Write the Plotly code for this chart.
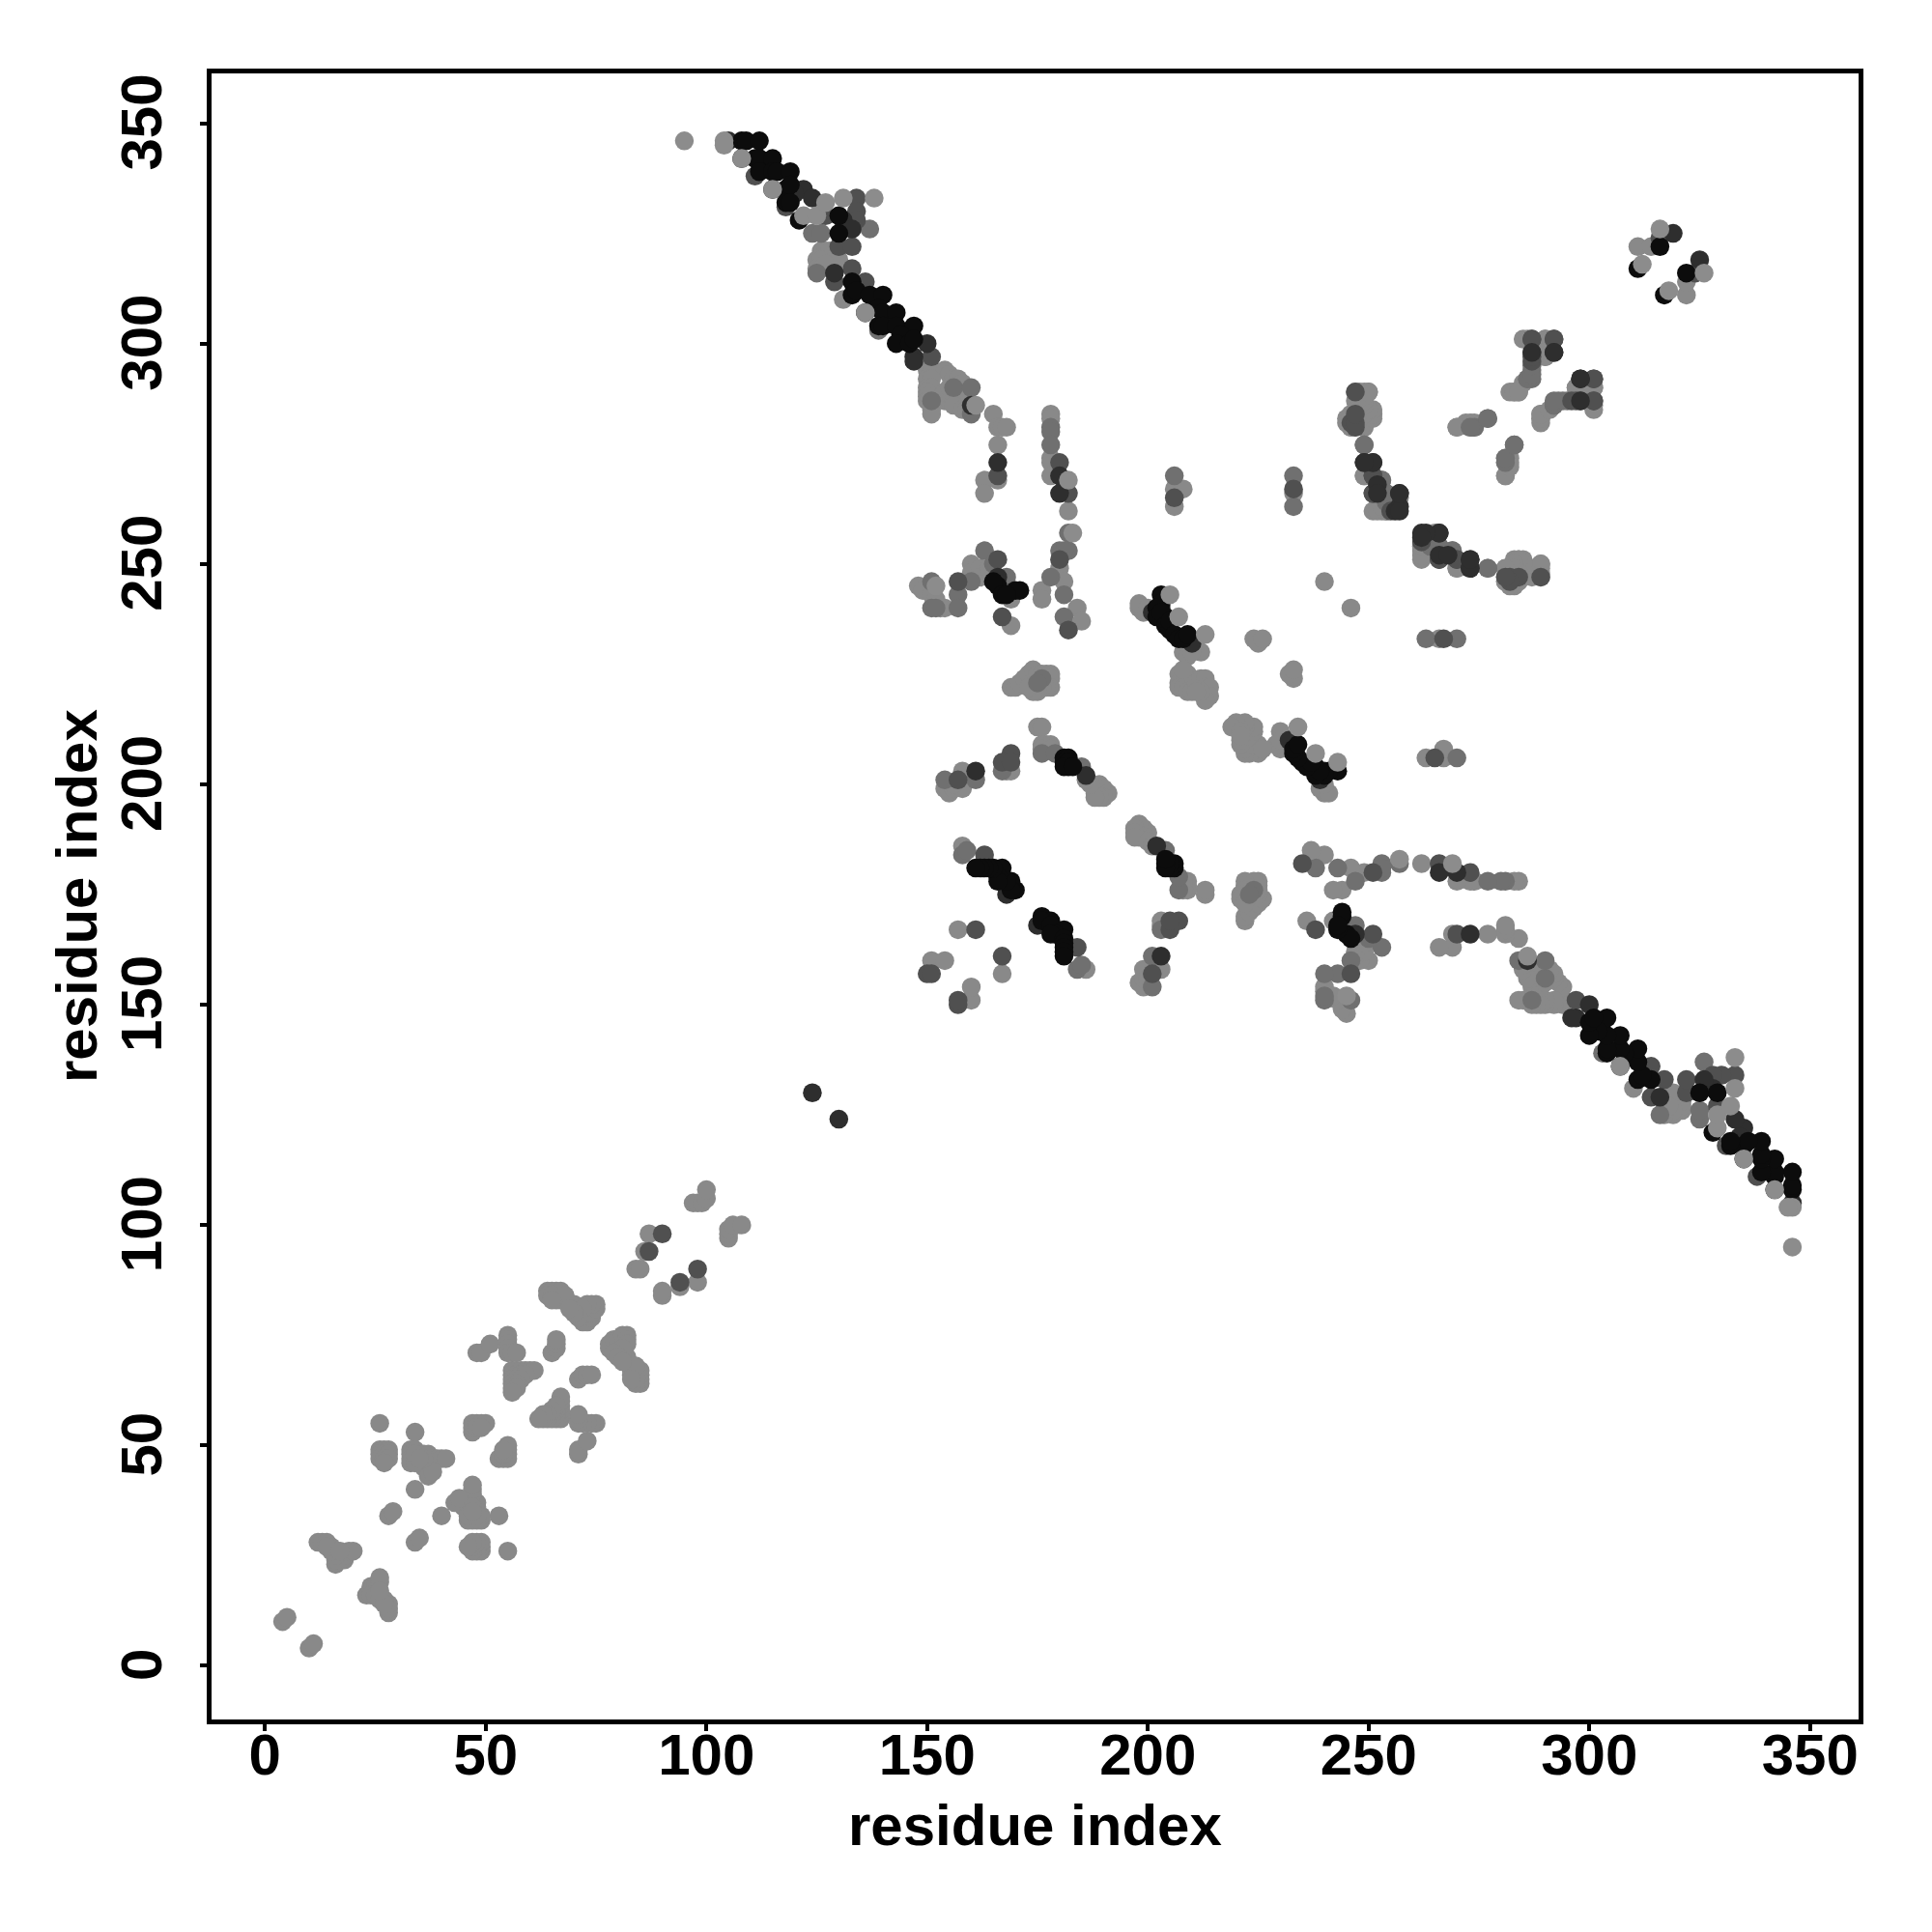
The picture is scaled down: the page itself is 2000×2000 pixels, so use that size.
import plotly.graph_objects as go

tick_values = [0, 50, 100, 150, 200, 250, 300, 350]
axis_label = "residue index"

# upper-triangle contacts (i, j), one list per shade; the map is symmetric
shade_lightest = [
 (4,10),(5,11),(12,28),(13,28),(14,28),(15,27),(16,26),(17,25),(18,24),(16,23),(17,24),(18,25),(19,26),(20,26),(16,24),(16,25),(15,26),(14,27),(17,26),
 (26,55),(34,53),(26,49),(27,49),(28,49),(26,48),(27,48),(28,48),(26,47),(27,47),(28,47),(27,46),
 (33,49),(34,49),(35,48),(36,48),(37,48),(33,48),(33,47),(34,47),(35,46),(36,45),(37,44),(37,43),(38,46),(39,47),(40,47),(41,47),(38,44),(36,47),(33,46),(34,46),(34,48),(35,47),
 (34,40),(28,34),(29,35),(47,53),(47,54),(47,55),(48,55),(49,55),(50,55),(48,54),(49,54),
 (48,71),(49,71),(51,73),(55,75),(55,74),(55,73),(55,72),(55,71),(56,71),(57,71),
 (56,67),(57,67),(58,67),(59,67),(60,67),(61,67),(56,66),(57,66),(58,66),(59,66),(56,65),(57,65),(58,65),(56,64),(57,64),(56,63),(57,63),(56,62),
 (65,71),(66,72),(66,73),(66,74),
 (64,85),(65,85),(66,85),(67,85),(64,84),(65,84),(66,83),(67,83),(68,83),(69,82),(70,82),(71,81),(72,80),(73,79),(72,78),(73,78),(74,79),(74,80),(75,81),(75,82),(74,82),(73,82),(68,84),(65,83),(72,81),(71,79),(70,80),(69,81),
 (84,90),(85,90),(86,94),(87,98),(97,105),(98,105),(99,105),(100,106),(100,108),
 (126,321),(127,321),(128,321),(125,319),(126,319),(129,319),(130,319),(125,317),(126,317),(127,318),(131,310),
 (150,294),(151,294),(154,294),(155,293),(150,292),(151,292),(156,292),(157,292),(158,291),(150,290),(151,290),(150,289),(150,288),(150,287),(151,286),(151,285),(151,284),(154,287),(155,287),(154,289),(155,290),(156,287),(157,287),(157,289),(158,287),(156,286),(158,285),(159,285),(160,285),
 (165,284),(166,281),(167,281),(168,281),(166,277),(166,269),(163,269),(163,266),
 (178,284),(178,283),(178,274),(178,273),(178,270),(182,262),(180,249),(181,246),(176,244),(176,242),(184,240),(185,237),
 (148,245),(149,244),(153,240),(154,240),(151,243),(152,242),
 (160,250),(161,249),(160,248),(161,247),(162,249),(162,247),(164,249),(169,242),(169,236),
 (169,222),(170,222),(171,223),(172,224),(173,225),(174,226),(175,225),(176,225),(177,225),(178,225),(178,224),(178,222),(177,222),(176,222),(175,221),(174,221),(173,222),
 (154,199),(155,198),(156,199),(158,203),(158,199),(156,200),(169,203),(168,203),
 (151,160),(154,160),(157,167),(158,186),
 (175,213),(176,213),(176,209),(177,209),(178,209),(176,208),(178,208),(188,199),(188,198),(189,200),(190,199),(191,198),(190,197),(189,197),(188,197),(187,200),(186,201),
 (198,240),(199,240),(199,239),(198,241),(200,240),(212,230),(208,230),(209,229),(210,230),
 (207,225),(207,223),(207,222),(208,222),(209,225),(209,223),(210,222),(209,221),(210,221),(211,223),(212,224),(213,224),(213,222),(214,222),(214,220),(213,219),(212,221),(208,226),(211,221),
 (224,233),(225,232),(226,233),(240,246),(206,267),(208,267),(206,263),(233,266),
 (249,270),(253,262),(251,262),(252,262),(254,262),(255,263),(255,265),
 (247,289),(248,289),(249,289),(250,289),(247,287),(248,286),(249,285),(250,285),(251,284),(250,283),(249,283),(246,284),(245,283),(245,282),(246,281),(247,282),(248,282),(249,281),(247,284),(248,284),
 (265,257),(262,254),(263,253),(264,254),(270,249),
 (281,249),(281,247),(281,246),(282,249),(282,246),(283,251),(284,251),(285,251),(283,246),(284,249),(285,250),(286,249),(286,248),(287,249),(288,249),(289,250),
 (270,281),(272,282),(273,282),(273,281),(281,270),(281,274),(282,274),(282,289),(283,289),(284,289),(289,283),(289,284),
 (285,291),(285,301),(290,301),(290,297),(290,299),(301,286),(297,290),(301,290),(298,289),(311,322),(314,322),
]
shade_mid = [
 (124,325),(126,325),(137,326),(139,303),(125,316),(151,287),(160,284),(156,290),(160,290),
 (178,281),(178,280),(178,277),(182,257),(180,253),(182,253),(181,253),(178,247),(181,243),(181,238),
 (151,246),(151,240),(152,240),(157,243),(157,240),(163,253),(160,246),(165,250),(168,247),
 (176,224),(175,223),(154,201),(161,201),(167,203),(158,184),(159,185),
 (176,207),(179,207),(185,204),(206,270),(233,270),(233,263),(249,277),(253,269),(254,266),(254,264),(266,254),(269,253),(277,249),
 (274,281),(277,283),(281,273),(283,277),(286,292),(287,294),(287,292),(292,286),(293,287),(295,287),
]
shade_dark = [
 (111,338),(118,331),(127,329),(134,333),(134,330),(134,328),(130,322),(129,314),(133,317),(133,322),(136,314),(151,297),
 (166,270),(180,273),(180,251),(182,266),(182,235),(157,246),(166,251),(167,238),
 (157,201),(169,207),(167,205),(169,205),(150,157),(151,157),(161,167),(163,184),
 (206,265),(233,267),(251,270),(251,266),(246,282),(247,281),(262,255),(266,251),(270,251),
 (289,247),(282,247),(284,247),(287,301),(287,296),(292,301),(297,287),(298,287),(301,287),(301,292),(316,324),
 (87,94),(90,98),
]
shade_darker = [
 (105,346),(122,335),(124,333),(120,334),(131,328),(133,326),(129,316),(150,300),(147,297),(147,296),
 (160,286),(166,273),(180,270),(180,266),(166,247),(161,203),(168,175),(186,202),(201,239),(210,232),(203,240),
 (124,130),(249,273),(251,273),(252,268),(257,266),(257,263),(256,262),(262,257),(266,257),(266,252),(273,251),(273,249),
 (287,298),(292,298),(298,292),(319,325),
]
shade_black = [
 (108,346),(109,346),(112,346),(108,342),(111,342),(112,342),(115,342),(112,339),(115,339),(116,339),(119,339),(115,335),(118,335),(119,336),(118,332),(119,332),(121,328),(130,329),(130,325),
 (133,314),(133,311),(134,312),(137,311),(140,311),(136,307),(139,308),(140,307),(143,307),(139,304),(140,304),(143,304),(147,304),(144,302),(143,300),(146,300),(147,301),
 (166,245),(165,246),(170,244),(171,244),(167,243),(168,243),
 (170,176),(169,178),(169,176),(168,178),(167,181),(166,179),(166,178),(165,181),(164,181),(163,181),(162,181),(161,181),
 (181,206),(182,206),(181,205),(182,205),(182,204),(181,204),(183,204),
 (203,243),(203,241),(202,240),(204,238),(202,238),(203,239),(204,236),(205,235),(205,237),(206,234),(207,233),(208,233),(209,234),
 (316,322),(311,317),
]
shade_top = [
 (95,346),(104,346),(104,345),(108,342),(115,335),(122,329),(125,329),(127,332),(131,333),(138,333),(136,307),(161,286),(182,269),(183,257),(152,245),
 (205,243),(207,238),(213,234),(316,326),(312,318),
]
shade_levels = [
 (shade_lightest, "#898989"),
 (shade_mid, "#707070"),
 (shade_dark, "#505050"),
 (shade_darker, "#2e2e2e"),
 (shade_black, "#0c0c0c"),
 (shade_top, "#8c8c8c"),
]

fig = go.Figure()
for pairs, colour in shade_levels:
    xs = [p[0] for p in pairs] + [p[1] for p in pairs]
    ys = [p[1] for p in pairs] + [p[0] for p in pairs]
    fig.add_trace(go.Scatter(x=xs, y=ys, mode="markers", showlegend=False,
                             marker=dict(size=19.5, color=colour, line=dict(width=0))))

title_font = dict(family="Liberation Sans", size=60, color="black", weight="bold")
axis_common = dict(tickmode="array", tickvals=tick_values, ticks="outside", ticklen=7, tickwidth=3.5,
                   tickcolor="black", showline=True, linecolor="black", linewidth=5, mirror=True,
                   showgrid=False, zeroline=False,
                   tickfont=dict(family="Liberation Sans", size=60, color="black", weight="bold"))
fig.update_xaxes(range=[-12.1, 361.0], ticklabelstandoff=-27, **axis_common)
fig.update_yaxes(range=[-12.2, 361.3], tickangle=-90, ticklabelstandoff=16, ticklabelshift=8, **axis_common)
fig.add_annotation(text=axis_label, xref="paper", yref="paper", x=0.5, y=-0.0645, showarrow=False,
                   xanchor="center", yanchor="middle", font=title_font)
fig.add_annotation(text=axis_label, xref="paper", yref="paper", x=-0.0821, y=0.5, showarrow=False,
                   textangle=-90, xanchor="center", yanchor="middle", font=title_font)
fig.update_layout(width=2000, height=2000, paper_bgcolor="white", plot_bgcolor="white",
                  margin=dict(l=211, r=84, t=68, b=228, autoexpand=False))
fig.write_html("out.html")
